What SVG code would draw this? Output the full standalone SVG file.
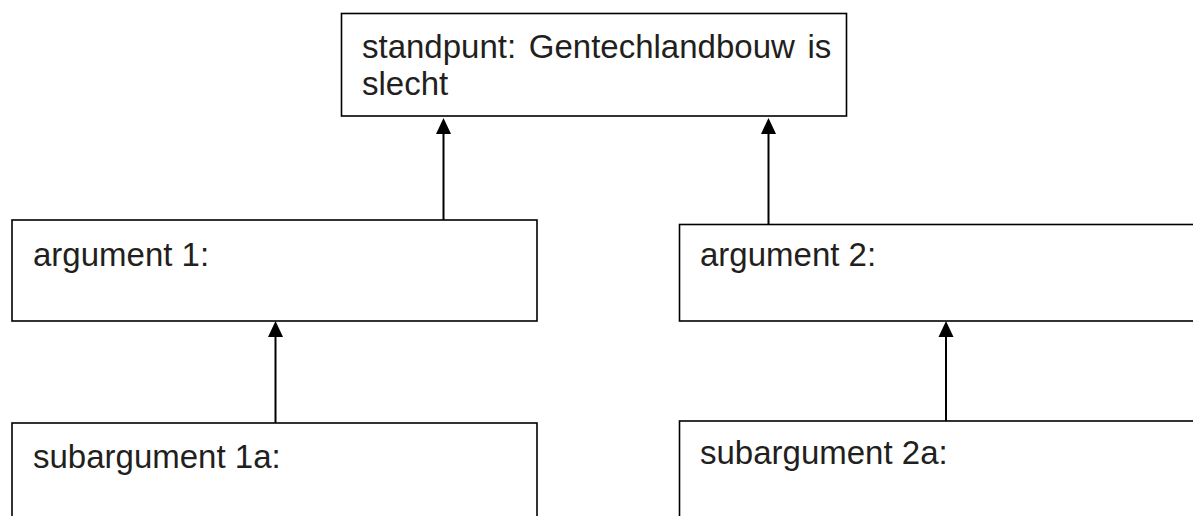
<svg xmlns="http://www.w3.org/2000/svg" width="1193" height="516" viewBox="0 0 1193 516">
<style>
.box{fill:#fff;stroke:#000;stroke-width:1.6}
.t{font-family:"Liberation Sans",Arial,sans-serif;font-size:33px;fill:#231f20}
.c{stroke:#000;stroke-width:2;fill:none}
.ah{fill:#000}
</style>
<rect width="1193" height="516" fill="#fff"/>
<g id="standpunt">
<rect class="box" x="341.5" y="13.5" width="505" height="102.5"/>
<text class="t" x="362" y="58" word-spacing="3.5">standpunt: Gentechlandbouw is</text>
<text class="t" x="362" y="95">slecht</text>
</g>
<g id="argument1">
<rect class="box" x="12" y="220" width="525" height="101"/>
<text class="t" x="33" y="266">argument 1:</text>
</g>
<g id="argument2">
<rect class="box" x="679.5" y="224.5" width="600" height="96.5"/>
<text class="t" x="700" y="266">argument 2:</text>
</g>
<g id="subargument1a">
<rect class="box" x="12" y="423" width="525" height="120"/>
<text class="t" x="33" y="468">subargument 1a:</text>
</g>
<g id="subargument2a">
<rect class="box" x="679.5" y="421" width="600" height="120"/>
<text class="t" x="700" y="464">subargument 2a:</text>
</g>
<g id="connectors">
<line class="c" x1="443.5" y1="220" x2="443.5" y2="130"/>
<polygon class="ah" points="443.5,118 436,134 451,134"/>
<line class="c" x1="768.5" y1="224.5" x2="768.5" y2="130"/>
<polygon class="ah" points="768.5,118 761,134 776,134"/>
<line class="c" x1="275.5" y1="423" x2="275.5" y2="333"/>
<polygon class="ah" points="275.5,321 268,337 283,337"/>
<line class="c" x1="946" y1="421" x2="946" y2="333"/>
<polygon class="ah" points="946,321 938.5,337 953.5,337"/>
</g>
</svg>
